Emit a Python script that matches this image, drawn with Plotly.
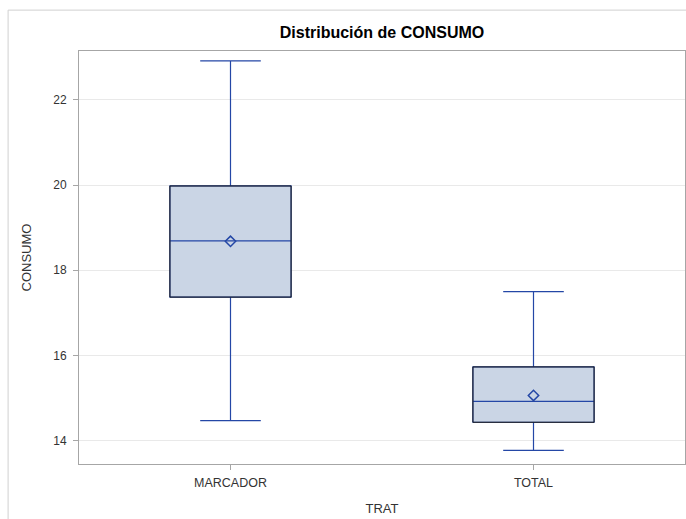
import plotly.graph_objects as go

# Summary statistics of CONSUMO by treatment
trat = ["MARCADOR", "TOTAL"]
q1 = [17.37, 14.43]
median = [18.69, 14.92]
q3 = [19.98, 15.73]
lower_whisker = [14.47, 13.77]
upper_whisker = [22.92, 17.50]
mean = [18.68, 15.06]

y_ticks = [14, 16, 18, 20, 22]

BLUE = "#2447a6"
FILL = "#cad5e5"
BOX_W = 0.4
FONT = "Arial, Liberation Sans, sans-serif"

fig = go.Figure()

fig.add_trace(go.Box(
    x=trat,
    q1=q1, median=median, q3=q3,
    lowerfence=lower_whisker, upperfence=upper_whisker,
    width=BOX_W,
    whiskerwidth=0.5,
    fillcolor=FILL,
    line=dict(color=BLUE, width=1.2),
    boxpoints=False,
    showlegend=False,
    hoverinfo="skip",
))

fig.add_trace(go.Scatter(
    x=trat, y=mean, mode="markers",
    marker=dict(symbol="diamond-open", size=8, color=BLUE,
                line=dict(color=BLUE, width=1.5)),
    showlegend=False,
))

# dark outline around each interquartile box
for i in range(len(trat)):
    fig.add_shape(type="rect", xref="x", yref="y",
                  x0=i - BOX_W / 2, x1=i + BOX_W / 2, y0=q1[i], y1=q3[i],
                  line=dict(color="#1a1a1a", width=1), layer="above")

# outer graph frame
fig.add_shape(type="rect", xref="paper", yref="paper",
              x0=-0.117, x1=1.2, y0=-0.3, y1=1.099,
              line=dict(color="#d0d0d0", width=1), layer="below")

fig.update_layout(
    width=686, height=519,
    margin=dict(l=79, r=1, t=51, b=55),
    paper_bgcolor="white", plot_bgcolor="white",
    font=dict(family=FONT, size=12, color="#333333"),
    title=dict(text="<b>Distribución de CONSUMO</b>", x=0.5, xref="paper",
               xanchor="center", y=1 - 32 / 519, yanchor="middle",
               font=dict(family=FONT, size=16, color="#000000")),
    xaxis=dict(
        title=dict(text="TRAT", font=dict(size=13, color="#333333"), standoff=14),
        type="category", range=[-0.5, 1.5],
        showline=True, linecolor="#a6a6a6", linewidth=1, mirror=True,
        ticks="outside", ticklen=5, tickcolor="#a6a6a6",
        ticklabelstandoff=2,
        showgrid=False, zeroline=False,
        tickfont=dict(size=12.5, color="#333333"),
    ),
    yaxis=dict(
        title=dict(text="CONSUMO", font=dict(size=13, color="#333333"), standoff=18),
        range=[13.45, 23.15],
        tickvals=y_ticks,
        showline=True, linecolor="#a6a6a6", linewidth=1, mirror=True,
        ticks="outside", ticklen=5, tickcolor="#a6a6a6",
        ticklabelstandoff=4,
        showgrid=True, gridcolor="#e9e9e9", gridwidth=1, zeroline=False,
        tickfont=dict(size=12, color="#333333"),
    ),
)

fig.write_html("out.html")
